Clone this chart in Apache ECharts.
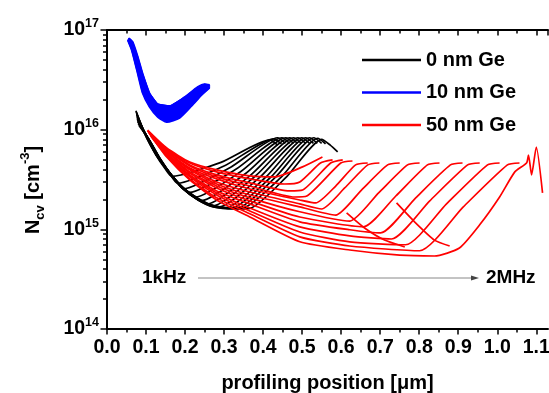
<!DOCTYPE html>
<html><head><meta charset="utf-8">
<script src="https://cdn.jsdelivr.net/npm/echarts@6/dist/echarts.min.js"></script>
<style>html,body{margin:0;padding:0;background:#fff}#c{width:549px;height:393px}</style>
</head><body><div id="c"></div>
<script>
const FONT = 'Liberation Sans, Arial, sans-serif';
const legendNames = ['0 nm Ge', '10 nm Ge', '50 nm Ge'];
const seriesColors = ['#000000', '#0000ff', '#ff0000'];
const xRange = [0, 1.13];
const yRange = [1e14, 1e17];
const freqLabels = ['1kHz', '2MHz'];
const yMinorTicks = [2e14,3e14,4e14,5e14,6e14,7e14,8e14,9e14,
  2e15,3e15,4e15,5e15,6e15,7e15,8e15,9e15,
  2e16,3e16,4e16,5e16,6e16,7e16,8e16,9e16];
const xMinorTicks = [0.05,0.15,0.25,0.35,0.45,0.55,0.65,0.75,0.85,0.95,1.05];

// 0 nm Ge : [position (um), N_cv (cm^-3)]
const blackCurves = [
  [[0.074,1.55e16],[0.097,9.0e15],[0.125,5.6e15],[0.150,4.0e15],[0.166,3.4e15],[0.292,4.7e15],[0.417,7.9e15],[0.437,7.0e15]],
  [[0.075,1.5e16],[0.098,9.0e15],[0.126,5.6e15],[0.156,3.9e15],[0.181,2.9e15],[0.304,4.4e15],[0.427,8.1e15],[0.447,7.2e15]],
  [[0.076,1.45e16],[0.099,8.8e15],[0.127,5.5e15],[0.157,3.8e15],[0.180,3.0e15],[0.196,2.55e15],[0.317,4.2e15],[0.437,8.3e15],[0.457,7.3e15]],
  [[0.076,1.4e16],[0.100,8.7e15],[0.128,5.5e15],[0.158,3.8e15],[0.188,2.8e15],[0.212,2.35e15],[0.330,4.0e15],[0.448,8.3e15],[0.468,7.3e15]],
  [[0.077,1.35e16],[0.101,8.6e15],[0.129,5.4e15],[0.159,3.7e15],[0.189,2.75e15],[0.227,2.1e15],[0.343,3.8e15],[0.458,8.3e15],[0.478,7.3e15]],
  [[0.077,1.3e16],[0.102,8.5e15],[0.130,5.4e15],[0.160,3.7e15],[0.190,2.7e15],[0.225,2.15e15],[0.243,1.94e15],[0.356,3.65e15],[0.468,8.3e15],[0.488,7.3e15]],
  [[0.078,1.3e16],[0.103,8.4e15],[0.131,5.3e15],[0.161,3.6e15],[0.191,2.7e15],[0.226,2.1e15],[0.258,1.8e15],[0.368,3.5e15],[0.478,8.3e15],[0.498,7.3e15]],
  [[0.078,1.25e16],[0.104,8.3e15],[0.132,5.3e15],[0.162,3.6e15],[0.192,2.65e15],[0.228,2.1e15],[0.260,1.8e15],[0.273,1.72e15],[0.381,3.45e15],[0.489,8.3e15],[0.509,7.3e15]],
  [[0.079,1.25e16],[0.105,8.2e15],[0.133,5.2e15],[0.163,3.55e15],[0.193,2.6e15],[0.229,2.05e15],[0.262,1.78e15],[0.289,1.68e15],[0.394,3.4e15],[0.499,8.3e15],[0.519,7.3e15]],
  [[0.079,1.2e16],[0.106,8.1e15],[0.134,5.2e15],[0.164,3.5e15],[0.194,2.6e15],[0.230,2.05e15],[0.264,1.76e15],[0.304,1.64e15],[0.407,3.35e15],[0.509,8.3e15],[0.529,7.3e15]],
  [[0.080,1.2e16],[0.107,8.0e15],[0.135,5.1e15],[0.165,3.5e15],[0.195,2.55e15],[0.231,2.0e15],[0.266,1.74e15],[0.320,1.64e15],[0.420,3.35e15],[0.519,8.3e15],[0.539,7.3e15]],
  [[0.080,1.15e16],[0.108,7.9e15],[0.136,5.1e15],[0.166,3.45e15],[0.196,2.55e15],[0.232,2.0e15],[0.268,1.72e15],[0.310,1.64e15],[0.335,1.64e15],[0.432,3.35e15],[0.530,8.3e15],[0.550,7.3e15]],
  [[0.081,1.15e16],[0.109,7.8e15],[0.137,5.0e15],[0.167,3.4e15],[0.197,2.5e15],[0.233,1.98e15],[0.270,1.7e15],[0.315,1.62e15],[0.350,1.64e15],[0.445,3.3e15],[0.540,8.2e15],[0.560,7.2e15]],
  [[0.082,1.1e16],[0.110,7.7e15],[0.138,5.0e15],[0.168,3.4e15],[0.198,2.5e15],[0.234,1.96e15],[0.272,1.68e15],[0.320,1.6e15],[0.366,1.62e15],[0.458,3.3e15],[0.550,8.0e15],[0.572,7.0e15],[0.591,6.0e15]]
];

// 10 nm Ge : upper and lower edges of the dense band
const blueUpper = [[0.056,8.3e16],[0.066,7.6e16],[0.079,5.4e16],[0.091,3.7e16],[0.109,2.33e16],[0.130,1.81e16],[0.161,1.73e16],[0.199,2.13e16],[0.232,2.68e16],[0.250,2.87e16],[0.263,2.81e16]];
const blueLower = [[0.053,7.9e16],[0.063,6.3e16],[0.076,4.0e16],[0.091,2.33e16],[0.109,1.69e16],[0.130,1.34e16],[0.153,1.19e16],[0.186,1.31e16],[0.217,1.73e16],[0.243,2.23e16],[0.263,2.62e16]];

// 50 nm Ge
const redCurves = [
  [[0.104,9.9e15],[0.153,6.55e15],[0.212,4.74e15],[0.281,3.95e15],[0.366,3.44e15],[0.430,3.36e15],[0.501,4.23e15],[0.552,5.32e15]],
  [[0.104,9.7e15],[0.153,6.4e15],[0.212,4.63e15],[0.281,3.77e15],[0.366,3.21e15],[0.455,2.85e15],[0.494,2.99e15],[0.547,4.63e15],[0.578,4.97e15]],
  [[0.104,9.7e15],[0.153,6.4e15],[0.212,4.43e15],[0.281,3.52e15],[0.366,2.92e15],[0.468,2.43e15],[0.501,2.48e15],[0.573,4.63e15],[0.604,4.97e15]],
  [[0.107,9.5e15],[0.153,6.25e15],[0.212,4.33e15],[0.281,3.36e15],[0.366,2.72e15],[0.481,2.11e15],[0.512,2.16e15],[0.599,4.63e15],[0.629,4.85e15]],
  [[0.107,9.5e15],[0.153,6.1e15],[0.212,4.13e15],[0.281,3.21e15],[0.366,2.54e15],[0.494,1.97e15],[0.535,1.84e15],[0.586,2.72e15],[0.637,4.43e15],[0.668,4.63e15]],
  [[0.107,9.3e15],[0.153,6.1e15],[0.212,4.04e15],[0.281,2.99e15],[0.366,2.37e15],[0.494,1.80e15],[0.550,1.60e15],[0.609,2.6e15],[0.668,4.43e15],[0.698,4.63e15]],
  [[0.109,9.3e15],[0.153,5.97e15],[0.212,3.95e15],[0.281,2.85e15],[0.366,2.21e15],[0.494,1.68e15],[0.586,1.39e15],[0.652,2.48e15],[0.719,4.43e15],[0.750,4.63e15]],
  [[0.109,9.1e15],[0.153,5.83e15],[0.212,3.77e15],[0.281,2.72e15],[0.366,2.07e15],[0.494,1.50e15],[0.622,1.21e15],[0.696,2.32e15],[0.770,4.43e15],[0.801,4.63e15]],
  [[0.109,9.1e15],[0.153,5.7e15],[0.212,3.68e15],[0.281,2.6e15],[0.366,1.93e15],[0.494,1.33e15],[0.657,1.06e15],[0.740,2.16e15],[0.821,4.43e15],[0.852,4.63e15]],
  [[0.112,8.85e15],[0.153,5.7e15],[0.212,3.52e15],[0.281,2.43e15],[0.366,1.80e15],[0.494,1.19e15],[0.622,9.9e14],[0.701,9.2e14],[0.791,2.07e15],[0.880,4.43e15],[0.911,4.63e15]],
  [[0.112,8.85e15],[0.153,5.57e15],[0.212,3.44e15],[0.281,2.32e15],[0.366,1.64e15],[0.494,1.06e15],[0.622,8.6e14],[0.729,8.0e14],[0.827,1.93e15],[0.924,4.43e15],[0.955,4.63e15]],
  [[0.112,8.65e15],[0.153,5.45e15],[0.212,3.36e15],[0.281,2.21e15],[0.366,1.53e15],[0.494,9.4e14],[0.622,7.5e14],[0.765,7.0e14],[0.870,1.80e15],[0.975,4.43e15],[1.006,4.63e15]],
  [[0.115,8.65e15],[0.153,5.45e15],[0.212,3.21e15],[0.281,2.07e15],[0.366,1.43e15],[0.494,8.4e14],[0.622,6.8e14],[0.801,6.1e14],[0.913,1.68e15],[1.026,4.43e15],[1.057,4.63e15]],
  [[0.115,8.45e15],[0.153,5.32e15],[0.212,3.13e15],[0.281,1.97e15],[0.366,1.33e15],[0.494,7.5e14],[0.622,6.2e14],[0.750,5.5e14],[0.839,5.4e14],[0.903,6.5e14],[0.955,1.11e15],[1.006,2.11e15],[1.045,3.77e15],[1.075,4.63e15],[1.080,5.57e15],[1.088,3.52e15],[1.100,6.7e15],[1.116,2.32e15]],
  [[0.614,1.46e15],[0.660,1.03e15],[0.711,7.8e14],[0.763,6.65e14]],
  [[0.742,1.84e15],[0.788,1.19e15],[0.839,7.8e14],[0.878,6.8e14]]
];

const chart = echarts.init(document.getElementById('c'), null, {renderer: 'canvas'});

function lineSeries(name, data, color, z) {
  return {type: 'line', name: name, data: data, color: color, showSymbol: false, symbol: 'none',
    xAxisIndex: 0, yAxisIndex: 0,
    smooth: 0.2, lineStyle: {width: 1.7, color: color}, silent: true, z: z, animation: false};
}

const series = [];
blackCurves.forEach(c => series.push(lineSeries(legendNames[0], c, seriesColors[0], 2)));
series.push(lineSeries(legendNames[1], blueUpper, seriesColors[1], 3));
series.push(lineSeries(legendNames[1], blueLower, seriesColors[1], 3));
series.push({
  type: 'custom', name: legendNames[1], coordinateSystem: 'cartesian2d', xAxisIndex: 0, yAxisIndex: 0,
  data: [[0.15, 2e16]], silent: true, z: 3, animation: false,
  renderItem: function (p, api) {
    const pts = blueUpper.concat(blueLower.slice().reverse()).map(d => api.coord(d));
    return {type: 'polygon', shape: {points: pts}, style: {fill: seriesColors[1], stroke: seriesColors[1], lineWidth: 1}};
  }
});
redCurves.forEach(c => series.push(lineSeries(legendNames[2], c, seriesColors[2], 4)));

const axisLineStyle = {color: '#000', width: 2};
const tickLine = {color: '#000', width: 1.5};

const minorXAxis = (pos, inside) => ({
  type: 'value', min: xRange[0], max: xRange[1], position: pos, gridIndex: 0,
  axisLine: {show: false, onZero: false}, axisLabel: {show: false}, splitLine: {show: false},
  axisTick: {show: true, inside: inside, length: 3.5, customValues: xMinorTicks, lineStyle: tickLine}
});

const option = {
  animation: false,
  backgroundColor: '#fff',
  grid: {left: 107, right: 1, top: 30, bottom: 64, containLabel: false, outerBoundsMode: 'none'},
  legend: {
    orient: 'vertical', left: 357, top: 45, itemWidth: 59, itemHeight: 2.5, itemGap: 12.5,
    icon: 'rect', selectedMode: false,
    textStyle: {fontSize: 20, fontWeight: 'bold', fontFamily: FONT, color: '#000'},
    data: legendNames.map((n, i) => ({name: n, itemStyle: {color: seriesColors[i]}}))
  },
  xAxis: [{
    type: 'value', min: xRange[0], max: xRange[1], interval: 0.1, position: 'bottom',
    axisLine: {show: true, onZero: false, lineStyle: axisLineStyle},
    axisTick: {show: true, length: 5.5, inside: false, lineStyle: tickLine},
    splitLine: {show: false},
    axisLabel: {showMaxLabel: false, margin: 9, fontSize: 19.5, fontWeight: 'bold', fontFamily: FONT, color: '#000',
      formatter: v => (Math.abs(v * 10 - Math.round(v * 10)) > 1e-6 ? '' : v.toFixed(1))},
    name: 'profiling position [\u03bcm]', nameLocation: 'middle', nameGap: 44,
    nameTextStyle: {fontSize: 20, fontWeight: 'bold', fontFamily: FONT, color: '#000'}
  }, {
    type: 'value', min: xRange[0], max: xRange[1], interval: 0.1, position: 'top',
    axisLine: {show: true, onZero: false, lineStyle: axisLineStyle},
    axisTick: {show: true, length: 5.5, inside: true, lineStyle: tickLine},
    splitLine: {show: false}, axisLabel: {show: false}
  }, minorXAxis('bottom', false), minorXAxis('top', true)],
  yAxis: [{
    type: 'log', logBase: 10, min: yRange[0], max: yRange[1], splitNumber: 3, position: 'left',
    axisLine: {show: true, onZero: false, lineStyle: axisLineStyle},
    axisTick: {show: true, length: 6.5, inside: false, lineStyle: tickLine},
    splitLine: {show: false},
    axisLabel: {
      margin: 8,
      formatter: v => '{a|10}{s|' + Math.round(Math.log10(v)) + '}',
      rich: {
        a: {fontSize: 19.5, fontWeight: 'bold', fontFamily: FONT, color: '#000', lineHeight: 25},
        s: {fontSize: 12.5, fontWeight: 'bold', fontFamily: FONT, color: '#000', verticalAlign: 'top', lineHeight: 13}
      }
    }
  }, {
    type: 'log', logBase: 10, min: yRange[0], max: yRange[1], position: 'left', gridIndex: 0,
    axisLine: {show: false, onZero: false}, axisLabel: {show: false}, splitLine: {show: false},
    axisTick: {show: true, inside: false, length: 4, customValues: yMinorTicks, lineStyle: tickLine}
  }],
  graphic: [
    {type: 'text', x: 33, y: 190, rotation: Math.PI / 2, silent: true,
      style: {text: '{b|N}{sub|cv}{b| [cm}{sup|-3}{b|]}', align: 'center', verticalAlign: 'middle',
        rich: {
          b: {fontSize: 20, fontWeight: 'bold', fontFamily: FONT, fill: '#000', lineHeight: 28},
          sub: {fontSize: 13, fontWeight: 'bold', fontFamily: FONT, fill: '#000', verticalAlign: 'bottom', lineHeight: 13},
          sup: {fontSize: 13, fontWeight: 'bold', fontFamily: FONT, fill: '#000', verticalAlign: 'top', lineHeight: 13}
        }}},
    {type: 'text', x: 142, y: 278, silent: true,
      style: {text: freqLabels[0], font: 'bold 19px ' + FONT, fill: '#000', align: 'left', verticalAlign: 'middle'}},
    {type: 'line', silent: true, shape: {x1: 198, y1: 278, x2: 472, y2: 278}, style: {stroke: '#888', lineWidth: 1}},
    {type: 'polygon', silent: true, shape: {points: [[471, 275.5], [479, 278], [471, 280.5]]}, style: {fill: '#444'}},
    {type: 'text', x: 486, y: 278, silent: true,
      style: {text: freqLabels[1], font: 'bold 19px ' + FONT, fill: '#000', align: 'left', verticalAlign: 'middle'}}
  ],
  series: series
};
chart.setOption(option);
</script>
</body></html>
